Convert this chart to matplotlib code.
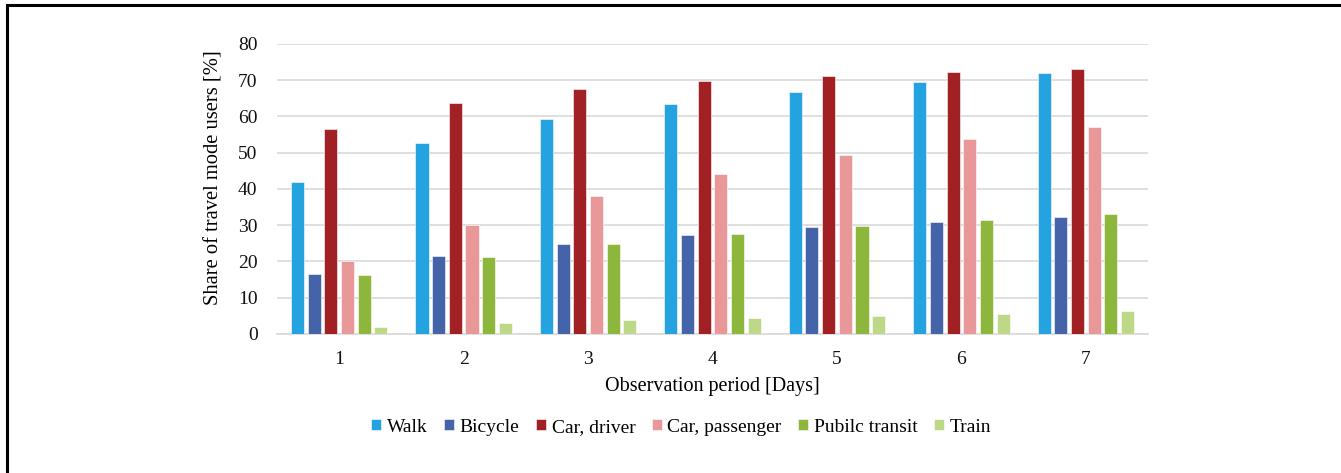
import matplotlib
matplotlib.use("Agg")
import matplotlib.pyplot as plt
import numpy as np

days = [1, 2, 3, 4, 5, 6, 7]
modes = ["Walk", "Bicycle", "Car, driver", "Car, passenger", "Pubilc transit", "Train"]
walk = [41.8, 52.6, 59.2, 63.5, 66.7, 69.6, 72.0]
bicycle = [16.4, 21.5, 24.9, 27.3, 29.4, 30.9, 32.3]
car_driver = [56.5, 63.8, 67.6, 69.8, 71.2, 72.3, 73.0]
car_passenger = [20.2, 30.1, 38.0, 44.1, 49.3, 53.8, 57.2]
public_transit = [16.2, 21.2, 24.8, 27.5, 29.7, 31.4, 33.0]
train = [1.8, 3.0, 3.8, 4.5, 5.0, 5.6, 6.2]
yticks = [0, 10, 20, 30, 40, 50, 60, 70, 80]

series = [walk, bicycle, car_driver, car_passenger, public_transit, train]
colors = ["#25a2e0", "#4463a9", "#a12024", "#e99899", "#8db63c", "#bdd886"]

plt.rcParams["font.family"] = ["Liberation Serif", "DejaVu Serif"]

fig = plt.figure(figsize=(13.41, 4.73), dpi=100)
ax = fig.add_axes([0.2066, 0.294, 0.6495, 0.613])

x = np.arange(len(days)) + 1
step = 0.134
width = 0.105
for i, (vals, col, name) in enumerate(zip(series, colors, modes)):
    ax.bar(x + (i - 2.5) * step, vals, width=width, color=col, label=name,
           edgecolor="white", linewidth=0.4, zorder=3)

ax.set_xlim(0.5, 7.5)
ax.set_ylim(0, 80)
ax.set_yticks(yticks)
ax.set_xticks(x)
ax.set_xticklabels([str(d) for d in days])
ax.yaxis.grid(True, color="#d9d9d9", linewidth=1.2, zorder=0)
ax.set_axisbelow(True)
for s in ["left", "right", "top"]:
    ax.spines[s].set_visible(False)
ax.spines["bottom"].set_color("#d9d9d9")
ax.spines["bottom"].set_linewidth(1.2)
ax.tick_params(axis="both", length=0, labelsize=14, colors="#111111")
ax.tick_params(axis="x", pad=12)
ax.tick_params(axis="y", pad=14)
ax.set_ylabel("Share of travel mode users [%]", fontsize=14.8)
ax.yaxis.set_label_coords(-0.061, 0.54)
ax.set_xlabel("Observation period [Days]", fontsize=14.5, labelpad=7)

leg = fig.legend(loc="center", bbox_to_anchor=(0.508, 0.097), ncol=6, frameon=False,
                 fontsize=14, handlelength=0.5, handleheight=0.5, handletextpad=0.3,
                 columnspacing=0.85)

# figure frame
fig.add_artist(plt.Line2D([6.5 / 1341, 6.5 / 1341], [0, 1 - 5.5 / 473], color="black",
                          linewidth=2.2, transform=fig.transFigure))
fig.add_artist(plt.Line2D([6.5 / 1341, 1], [1 - 5.5 / 473, 1 - 5.5 / 473], color="black",
                          linewidth=2.2, transform=fig.transFigure))

fig.savefig("out.png", dpi=100)
